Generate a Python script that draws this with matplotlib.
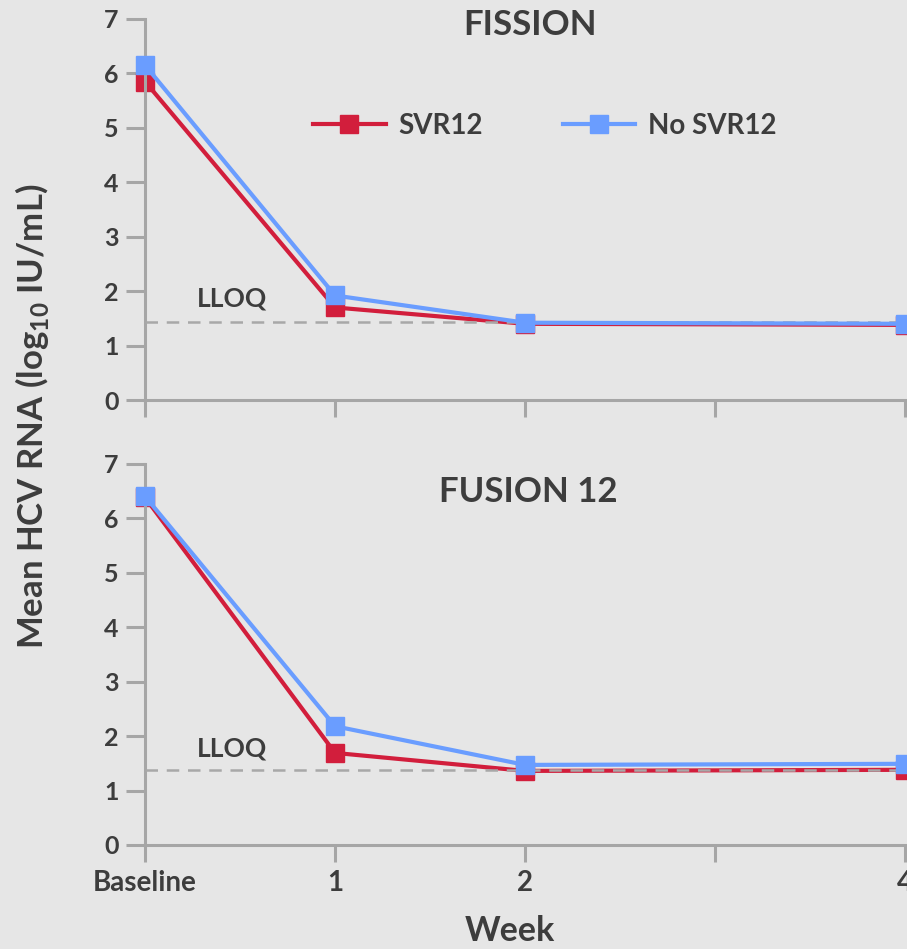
import matplotlib.pyplot as plt

# semaines (Baseline = 0)
weeks = [0, 1, 2, 4]
week_ticks = [0, 1, 2, 3, 4]
week_labels = ["Baseline", "1", "2", "", "4"]

fission_svr = [5.85, 1.70, 1.40, 1.38]
fission_nosvr = [6.15, 1.92, 1.42, 1.40]
fusion_svr = [6.38, 1.69, 1.36, 1.38]
fusion_nosvr = [6.40, 2.18, 1.47, 1.49]

lloq_fission = 1.43
lloq_fusion = 1.38

bg = "#e6e6e6"
txt = "#3d3d3d"
axc = "#a6a6a6"
red = "#d21e3c"
blue = "#6a9dff"

plt.rcParams['font.family'] = ['Lato', 'DejaVu Sans']
plt.rcParams['font.weight'] = 'bold'

W, H = 907, 949
fig = plt.figure(figsize=(W / 100, H / 100), dpi=100, facecolor=bg)
ax1 = fig.add_axes([0.1599, 0.5785, 0.838, 0.4015])
ax2 = fig.add_axes([0.1599, 0.1096, 0.838, 0.4018])


def draw(ax, svr, nosvr, lloq, ty):
    ax.set_facecolor(bg)
    ax.set_xlim(0, 4)
    ax.set_ylim(0, 7)
    ax.axhline(lloq, color="#a8a8a8", lw=1.8, ls=(0, (5, 3.5)), zorder=3)
    ax.plot(weeks, svr, color=red, lw=3, marker="s", ms=13, clip_on=False,
            zorder=2, label="SVR12")
    ax.plot(weeks, nosvr, color=blue, lw=3, marker="s", ms=13, clip_on=False,
            zorder=4, label="No SVR12")
    for s in ["top", "right"]:
        ax.spines[s].set_visible(False)
    for s in ["left", "bottom"]:
        ax.spines[s].set_color(axc)
        ax.spines[s].set_linewidth(2.2)
    ax.set_yticks(range(8))
    ax.set_xticks(week_ticks)
    ax.tick_params(axis="y", length=14, width=2.2, color=axc, labelsize=18,
                   labelcolor=txt, pad=5)
    ax.tick_params(axis="x", length=12, width=2.2, color=axc, labelsize=20,
                   labelcolor=txt, pad=6)
    for t in ax.get_yticklabels():
        t.set_fontweight("bold")
    for t in ax.get_xticklines():
        t.set_clip_on(False)
    ax.text(0.46, ty, "LLOQ", transform=ax.transData, fontsize=19,
            fontweight="bold", color=txt, ha="center", va="center")


draw(ax1, fission_svr, fission_nosvr, lloq_fission, 1.87)
draw(ax2, fusion_svr, fusion_nosvr, lloq_fusion, 1.78)

ax1.set_xticklabels([])
ax2.set_xticklabels(week_labels, fontweight="bold")

fig.text(530 / W, 1 - 25 / H, "FISSION", fontsize=25, fontweight="bold",
         color=txt, ha="center", va="center")
fig.text(528 / W, 1 - 492 / H, "FUSION 12", fontsize=25, fontweight="bold",
         color=txt, ha="center", va="center")

leg = ax1.legend(loc="center", bbox_to_anchor=(0.526, 0.719), ncol=2,
                 frameon=False, handlelength=2.6,
                 columnspacing=2.9, handletextpad=0.45, labelcolor=txt,
                 borderaxespad=0, borderpad=0,
                 prop={"size": 20, "weight": "bold"})

fig.text(510 / W, 1 - 931 / H, "Week", fontsize=24.5, fontweight="bold",
         color=txt, ha="center", va="center")

fig.text(32 / W, 1 - 416 / H,
         r"Mean HCV RNA (log$_{\mathregular{10}}$ IU/mL)",
         rotation=90, fontsize=25, fontweight="bold", color=txt,
         ha="center", va="center")

fig.savefig("out.png", dpi=100, facecolor=bg)
